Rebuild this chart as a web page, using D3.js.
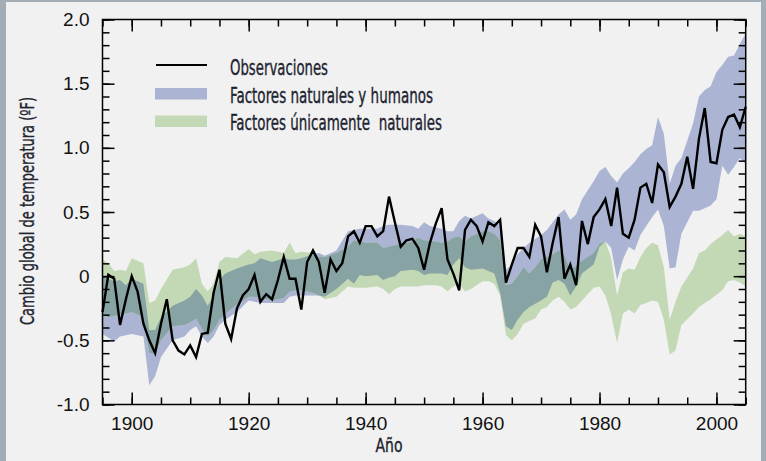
<!DOCTYPE html>
<html>
<head>
<meta charset="utf-8">
<script src="https://cdn.jsdelivr.net/npm/d3@7"></script>
<style>
  html, body { margin: 0; padding: 0; background: #a3adb6; }
  svg { display: block; }
  .tick text { font-family: "Liberation Sans", Arial, sans-serif; font-size: 19px; fill: #111; }
  .narrow { font-family: "Liberation Sans Narrow", "DejaVu Sans Condensed", "Liberation Sans", sans-serif;
            fill: #1d2430; stroke: #1d2430; stroke-width: 0.35px; }
</style>
</head>
<body>
<script>
// observed temperature change (ºF), one value per year
var obs = [
  [1895,-0.28],[1896,0.01],[1897,-0.02],[1898,-0.38],[1899,-0.18],[1900,0.00],
  [1901,-0.12],[1902,-0.37],[1903,-0.50],[1904,-0.60],[1905,-0.37],[1906,-0.18],
  [1907,-0.50],[1908,-0.58],[1909,-0.61],[1910,-0.54],[1911,-0.63],[1912,-0.45],
  [1913,-0.44],[1914,-0.13],[1915,0.05],[1916,-0.37],[1917,-0.49],[1918,-0.25],
  [1919,-0.15],[1920,-0.10],[1921,0.01],[1922,-0.20],[1923,-0.14],[1924,-0.18],
  [1925,-0.03],[1926,0.15],[1927,-0.02],[1928,-0.02],[1929,-0.26],[1930,0.11],
  [1931,0.20],[1932,0.11],[1933,-0.13],[1934,0.13],[1935,0.04],[1936,0.10],
  [1937,0.31],[1938,0.35],[1939,0.26],[1940,0.39],[1941,0.39],[1942,0.31],
  [1943,0.35],[1944,0.62],[1945,0.42],[1946,0.23],[1947,0.28],[1948,0.29],
  [1949,0.22],[1950,0.05],[1951,0.26],[1952,0.41],[1953,0.53],[1954,0.13],
  [1955,0.02],[1956,-0.11],[1957,0.36],[1958,0.44],[1959,0.39],[1960,0.27],
  [1961,0.42],[1962,0.39],[1963,0.44],[1964,-0.05],[1965,0.09],[1966,0.22],
  [1967,0.22],[1968,0.15],[1969,0.40],[1970,0.31],[1971,0.03],[1972,0.26],
  [1973,0.46],[1974,-0.02],[1975,0.09],[1976,-0.07],[1977,0.43],[1978,0.25],
  [1979,0.46],[1980,0.52],[1981,0.60],[1982,0.39],[1983,0.69],[1984,0.33],
  [1985,0.30],[1986,0.44],[1987,0.69],[1988,0.72],[1989,0.57],[1990,0.87],
  [1991,0.81],[1992,0.54],[1993,0.62],[1994,0.72],[1995,0.93],[1996,0.68],
  [1997,1.07],[1998,1.31],[1999,0.89],[2000,0.88],[2001,1.14],[2002,1.24],
  [2003,1.26],[2004,1.16],[2005,1.32]
];

// model range with natural and human factors: [year, low, high]
var bothBand = [
  [1895,-0.45,0.00],[1896,-0.48,-0.02],[1897,-0.51,-0.04],[1898,-0.47,-0.03],
  [1899,-0.46,-0.07],[1900,-0.45,-0.02],[1902,-0.47,-0.06],[1903,-0.85,-0.42],
  [1904,-0.78,-0.42],[1905,-0.63,-0.32],[1907,-0.50,-0.23],[1909,-0.47,-0.19],
  [1910,-0.42,-0.16],[1911,-0.39,-0.10],[1912,-0.47,-0.15],[1913,-0.52,-0.23],
  [1914,-0.47,-0.15],[1915,-0.38,-0.03],[1916,-0.34,0.02],[1918,-0.28,0.06],
  [1920,-0.19,0.09],[1921,-0.20,0.10],[1922,-0.21,0.14],[1924,-0.21,0.11],
  [1926,-0.21,0.14],[1927,-0.16,0.13],[1928,-0.15,0.13],[1929,-0.15,0.14],
  [1931,-0.15,0.17],[1932,-0.15,0.18],[1933,-0.16,0.16],[1935,-0.10,0.20],
  [1937,-0.02,0.35],[1938,-0.06,0.36],[1939,0.01,0.37],[1940,0.00,0.37],
  [1942,0.01,0.37],[1943,-0.03,0.39],[1944,-0.01,0.40],[1945,0.00,0.40],
  [1946,0.04,0.40],[1948,0.05,0.39],[1949,0.04,0.37],[1950,0.01,0.42],
  [1951,0.02,0.39],[1953,0.02,0.37],[1954,0.01,0.35],[1955,0.09,0.35],
  [1956,0.14,0.43],[1957,0.07,0.47],[1958,0.05,0.45],[1960,0.06,0.49],
  [1961,0.04,0.45],[1962,0.02,0.43],[1963,-0.13,0.40],[1964,-0.39,0.05],
  [1965,-0.42,0.09],[1966,-0.34,0.17],[1967,-0.28,0.22],[1968,-0.24,0.26],
  [1970,-0.19,0.32],[1971,-0.16,0.36],[1972,-0.05,0.42],[1973,-0.03,0.48],
  [1974,-0.06,0.52],[1975,-0.15,0.44],[1976,-0.08,0.48],[1977,0.02,0.60],
  [1979,0.09,0.74],[1980,0.23,0.82],[1981,0.27,0.85],[1982,0.22,0.78],
  [1983,-0.03,0.73],[1984,0.13,0.80],[1985,0.23,0.84],[1986,0.20,0.89],
  [1987,0.32,0.95],[1988,0.39,0.99],[1989,0.46,1.02],[1990,0.52,1.24],
  [1991,0.39,1.11],[1992,0.06,0.72],[1993,0.07,0.86],[1994,0.33,0.92],
  [1996,0.51,1.19],[1997,0.51,1.40],[1998,0.53,1.45],[1999,0.55,1.48],
  [2000,0.60,1.59],[2001,0.86,1.645],[2002,0.79,1.71],[2003,0.85,1.72],
  [2004,0.92,1.81],[2005,0.87,1.89]
];

// model range with natural factors only: [year, low, high]
var naturalBand = [
  [1895,-0.30,0.13],[1896,-0.32,0.10],[1897,-0.31,0.04],[1898,-0.30,0.05],
  [1899,-0.29,0.04],[1900,-0.28,0.14],[1902,-0.32,0.10],[1903,-0.60,-0.21],
  [1904,-0.60,-0.19],[1905,-0.50,-0.10],[1907,-0.39,0.05],[1909,-0.38,0.07],
  [1910,-0.36,0.09],[1911,-0.33,0.14],[1912,-0.41,-0.06],[1913,-0.47,-0.12],
  [1914,-0.42,-0.06],[1915,-0.34,0.11],[1916,-0.29,0.15],[1918,-0.22,0.14],
  [1920,-0.16,0.21],[1921,-0.16,0.17],[1922,-0.17,0.19],[1924,-0.19,0.20],
  [1926,-0.17,0.18],[1927,-0.12,0.26],[1928,-0.11,0.18],[1929,-0.11,0.19],
  [1931,-0.13,0.18],[1932,-0.15,0.15],[1933,-0.18,0.15],[1935,-0.16,0.18],
  [1937,-0.08,0.23],[1938,-0.09,0.28],[1940,-0.09,0.26],[1942,-0.08,0.26],
  [1943,-0.10,0.22],[1944,-0.14,0.23],[1945,-0.10,0.24],[1946,-0.08,0.25],
  [1948,-0.08,0.27],[1949,-0.08,0.30],[1950,-0.07,0.28],[1952,-0.07,0.27],
  [1953,-0.08,0.26],[1954,-0.12,0.27],[1955,-0.08,0.30],[1956,-0.06,0.31],
  [1957,-0.12,0.27],[1958,-0.10,0.31],[1960,-0.04,0.35],[1961,-0.04,0.35],
  [1962,-0.06,0.33],[1963,-0.15,0.28],[1964,-0.46,-0.07],[1965,-0.50,-0.06],
  [1966,-0.45,0.00],[1967,-0.37,0.07],[1968,-0.35,0.02],[1969,-0.33,0.07],
  [1970,-0.26,0.13],[1971,-0.24,0.15],[1972,-0.19,0.17],[1973,-0.16,0.20],
  [1974,-0.20,0.16],[1975,-0.26,0.05],[1976,-0.24,0.08],[1977,-0.19,0.12],
  [1979,-0.09,0.18],[1980,-0.08,0.25],[1981,-0.15,0.27],[1982,-0.30,0.14],
  [1983,-0.52,-0.15],[1984,-0.29,0.03],[1985,-0.26,0.06],[1986,-0.29,0.05],
  [1987,-0.225,0.15],[1988,-0.21,0.22],[1989,-0.19,0.26],[1990,-0.20,0.24],
  [1991,-0.34,0.07],[1992,-0.61,-0.34],[1993,-0.58,-0.20],[1994,-0.38,-0.08],
  [1996,-0.29,0.06],[1997,-0.24,0.18],[1998,-0.21,0.20],[1999,-0.18,0.25],
  [2001,-0.11,0.32],[2002,-0.04,0.36],[2003,-0.03,0.31],[2004,-0.05,0.33],
  [2005,-0.08,0.31]
];

var yearRange = [1895, 2005];
var tempRange = [-1.0, 2.0];
var yMajor = [-1.0, -0.5, 0, 0.5, 1.0, 1.5, 2.0];
var yLabels = ["-1.0", "-0.5", "0", "0.5", "1.0", "1.5", "2.0"];
var xMajor = [1900, 1920, 1940, 1960, 1980, 2000];
var legendLabels = ["Observaciones", "Factores naturales y humanos", "Factores únicamente  naturales"];
var yTitle = "Cambio global de temperatura (ºF)";
var xTitle = "Año";

var margin = { top: 19.5, left: 102.5 },
  width = 643.2,
  height = 385;

var svg = d3.select("body").append("svg")
  .attr("width", 766)
  .attr("height", 461);

// light panel inside the grey frame
svg.append("rect")
  .attr("x", 6).attr("y", 2)
  .attr("width", 755).attr("height", 461)
  .attr("fill", "#f1f1f1");

var g = svg.append("g")
  .attr("transform", "translate(" + margin.left + "," + margin.top + ")");

var x = d3.scaleLinear().domain(yearRange).range([0, width]);
var y = d3.scaleLinear().domain(tempRange).range([height, 0]);

var band = d3.area()
  .x(function (d) { return x(d[0]); })
  .y0(function (d) { return y(d[1]); })
  .y1(function (d) { return y(d[2]); });

var line = d3.line()
  .x(function (d) { return x(d[0]); })
  .y(function (d) { return y(d[1]); });

g.append("clipPath").attr("id", "bothClip")
  .append("path").attr("d", band(bothBand));

g.append("path").attr("d", band(bothBand)).attr("fill", "#abb5d3");
g.append("path").attr("d", band(naturalBand)).attr("fill", "#c3d9b6");
// overlap of the two ranges
g.append("path").attr("d", band(naturalBand))
  .attr("clip-path", "url(#bothClip)")
  .attr("fill", "#88a3a3");

g.append("path")
  .attr("d", line(obs))
  .attr("fill", "none")
  .attr("stroke", "#000")
  .attr("stroke-width", 2.4)
  .attr("stroke-linejoin", "miter");

// ticks on all four sides, pointing inward
function ticksOn(axisFn, sel, values, size) {
  sel.call(axisFn.tickValues(values).tickSizeInner(-size).tickSizeOuter(0).tickFormat(""));
}
var xMinor = x.ticks(22), yMinor = y.ticks(30);

var bottom = g.append("g").attr("transform", "translate(0," + height + ")");
ticksOn(d3.axisBottom(x), bottom.append("g"), xMinor, 7);
bottom.append("g").call(d3.axisBottom(x).tickValues(xMajor).tickSizeInner(-12)
  .tickSizeOuter(0).tickPadding(12).tickFormat(d3.format("d")));

ticksOn(d3.axisTop(x), g.append("g"), xMinor, 7);
ticksOn(d3.axisTop(x), g.append("g"), xMajor, 12);

var left = g.append("g");
ticksOn(d3.axisLeft(y), left.append("g"), yMinor, 7);
left.append("g").call(d3.axisLeft(y).tickValues(yMajor).tickSizeInner(-12)
  .tickSizeOuter(0).tickPadding(13)
  .tickFormat(function (d, i) { return yLabels[i]; }));

var right = g.append("g").attr("transform", "translate(" + width + ",0)");
ticksOn(d3.axisRight(y), right.append("g"), yMinor, 7);
ticksOn(d3.axisRight(y), right.append("g"), yMajor, 12);

g.selectAll(".domain").remove();
g.selectAll(".tick line").attr("stroke", "#000").attr("stroke-width", 1.5);

g.append("rect")
  .attr("width", width).attr("height", height)
  .attr("fill", "none").attr("stroke", "#000").attr("stroke-width", 1.5);

// axis titles
svg.append("text").attr("class", "narrow")
  .attr("transform", "translate(34,211) rotate(-90)")
  .attr("text-anchor", "middle")
  .attr("font-size", 19)
  .attr("textLength", 228).attr("lengthAdjust", "spacingAndGlyphs")
  .text(yTitle);

svg.append("text").attr("class", "narrow")
  .attr("x", 389).attr("y", 452)
  .attr("text-anchor", "middle")
  .attr("font-size", 19)
  .attr("textLength", 27).attr("lengthAdjust", "spacingAndGlyphs")
  .text(xTitle);

// legend
var legend = svg.append("g");
legend.append("line")
  .attr("x1", 156).attr("x2", 207).attr("y1", 65).attr("y2", 65)
  .attr("stroke", "#000").attr("stroke-width", 2);
legend.append("rect").attr("x", 155).attr("y", 88).attr("width", 52).attr("height", 11.5).attr("fill", "#abb5d3");
legend.append("rect").attr("x", 155).attr("y", 115.5).attr("width", 52).attr("height", 11.5).attr("fill", "#c3d9b6");

var legendLen = [98, 203, 212];
legend.selectAll("text.leg").data(legendLabels).enter().append("text")
  .attr("class", "narrow leg")
  .attr("x", 230)
  .attr("y", function (d, i) { return 75 + i * 27.5; })
  .attr("font-size", 21)
  .attr("textLength", function (d, i) { return legendLen[i]; })
  .attr("lengthAdjust", "spacingAndGlyphs")
  .attr("xml:space", "preserve")
  .style("white-space", "pre")
  .text(function (d) { return d; });
</script>
</body>
</html>
